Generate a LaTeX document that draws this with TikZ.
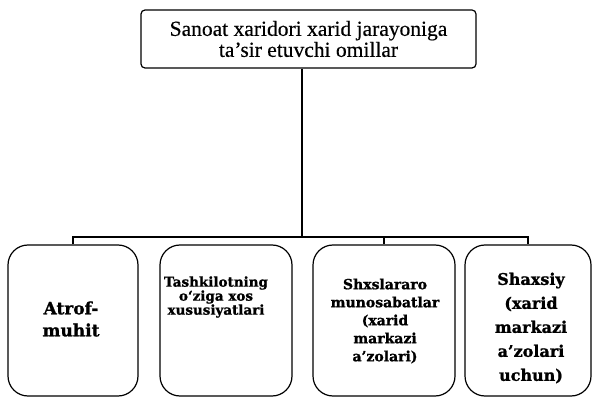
\documentclass[tikz,border=0pt]{standalone}
\usepackage{fontspec}
\setmainfont{Liberation Serif}[FakeBold=0.4]
\newfontfamily\boxfont{DejaVu Serif}[BoldFeatures={FakeBold=1.2}]
\begin{document}
\begin{tikzpicture}[x=1pt,y=-1pt,line width=1.2pt,
  topbox/.style={draw,rounded corners=4pt,minimum width=335pt,minimum height=58pt,inner sep=0pt,align=center,font=\fontsize{21.5}{21}\selectfont},
  ubox/.style={draw,rounded corners=20pt,minimum width=#1,minimum height=151pt,inner sep=0pt},
  lbl/.style={align=center,inner sep=0pt}]
\useasboundingbox (0,0) rectangle (592,398);
\node[topbox] (top) at (308.5,39) {Sanoat xaridori xarid jarayoniga\\ta’sir etuvchi omillar};
\node[ubox=130pt] (b1) at (73,320.5) {};
\node[ubox=132pt] (b2) at (226,320.5) {};
\node[ubox=142pt] (b3) at (384,320.5) {};
\node[ubox=126pt] (b4) at (528,320.5) {};
\node[lbl,font=\boxfont\bfseries\fontsize{17}{22}\selectfont] (t1) at (71,319) {Atrof-\\muhit};
\node[lbl,font=\boxfont\bfseries\fontsize{13.5}{14}\selectfont] (t2) at (216,297) {Tashkilotning\\o‘ziga xos\\xususiyatlari};
\node[lbl,font=\boxfont\bfseries\fontsize{14}{18}\selectfont] (t3) at (385,321) {Shxslararo\\munosabatlar\\(xarid\\markazi\\a’zolari)};
\node[lbl,font=\boxfont\bfseries\fontsize{16}{24}\selectfont] (t4) at (531,328) {Shaxsiy\\(xarid\\markazi\\a’zolari\\uchun)};
\coordinate (v) at (302,237);
\draw (top.south -| v) -- (v);
\draw (b1.north) -- (b1.north |- v) -- (b4.north |- v) -- (b4.north);
\draw (b3.north) -- (b3.north |- v);
\end{tikzpicture}
\end{document}
